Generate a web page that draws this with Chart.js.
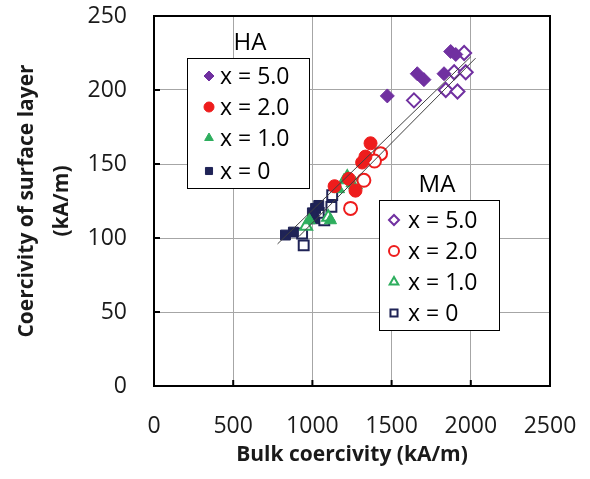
<!DOCTYPE html>
<html>
<head>
<meta charset="utf-8">
<script src="https://cdn.jsdelivr.net/npm/chart.js@4/dist/chart.umd.min.js"></script>
<style>
  body { margin: 0; background: #fff; }
  #wrap { width: 590px; height: 479px; }
</style>
</head>
<body>
<div id="wrap"><canvas id="myChart" width="590" height="479"></canvas></div>
<script>
// values (bulk coercivity vs surface layer coercivity, kA/m)
const haX5 = [1473, 1662, 1704, 1831, 1873, 1905];
const haY5 = [196, 211, 207, 211, 226, 224];
const maX5 = [1641, 1842, 1916, 1895, 1968, 1958];
const maY5 = [193, 200, 199, 212, 212, 225];

const haX2 = [1367, 1335, 1314, 1230, 1272, 1140];
const haY2 = [164, 155, 151, 140, 132, 135];
const maX2 = [1430, 1392, 1325, 1241];
const maY2 = [157, 152, 139, 120];

const haX1 = [1200, 1250, 1114, 980, 1165];
const haY1 = [139, 137, 112, 112, 133];
const maX1 = [1220, 1272, 1100, 960];
const maY1 = [141, 136, 114, 108];

const haX0 = [830, 880, 1010, 1020, 1040, 1000];
const haY0 = [102, 104, 113, 120, 122, 117];
const maX0 = [935, 945, 1075, 1120, 1125, 1040];
const maY0 = [103, 95, 112, 121, 129, 117];

// fitted lines (end points)
const haLineX = [780, 2000];
const haLineY = [96, 222.5];
const maLineX = [915, 2030];
const maLineY = [101, 221.5];

const xTicks = [0, 500, 1000, 1500, 2000, 2500];
const yTicks = [0, 50, 100, 150, 200, 250];
const seriesLabels = ['x = 5.0', 'x = 2.0', 'x = 1.0', 'x = 0'];

const purple = '#7030A0';
const red = '#EE1C1C';
const green = '#2EAE5E';
const navy = '#1F2356';

function pts(xs, ys) {
    return xs.map((x, i) => ({x: x, y: ys[i]}));
}

function lineSet(xs, ys) {
    return {
        data: pts(xs, ys),
        showLine: true,
        borderColor: '#404040',
        borderWidth: 1,
        pointRadius: 0,
        fill: false
    };
}

function filledSet(label, xs, ys, color, style, r) {
    return {
        label: label, group: 'HA',
        data: pts(xs, ys),
        pointStyle: style,
        pointRadius: r,
        backgroundColor: color,
        borderColor: color,
        borderWidth: 1
    };
}

function openSet(label, xs, ys, color, style, r) {
    return {
        label: label, group: 'MA',
        data: pts(xs, ys),
        pointStyle: style,
        pointRadius: r,
        backgroundColor: '#ffffff',
        borderColor: color,
        borderWidth: 2
    };
}

const datasets = [
    lineSet(haLineX, haLineY),
    lineSet(maLineX, maLineY),
    filledSet(seriesLabels[0], haX5, haY5, purple, 'rectRot', 7),
    filledSet(seriesLabels[1], haX2, haY2, red, 'circle', 6.5),
    filledSet(seriesLabels[2], haX1, haY1, green, 'triangle', 7),
    filledSet(seriesLabels[3], haX0, haY0, navy, 'rect', 7),
    openSet(seriesLabels[0], maX5, maY5, purple, 'rectRot', 7),
    openSet(seriesLabels[1], maX2, maY2, red, 'circle', 6.5),
    openSet(seriesLabels[2], maX1, maY1, green, 'triangle', 7),
    openSet(seriesLabels[3], maX0, maY0, navy, 'rect', 7)
];

const font = "'Open Sans', sans-serif";

// frame, inward tick marks and the two boxed legends
const decor = {
    id: 'decor',
    afterDatasetsDraw(chart) {
        const ctx = chart.ctx;
        const a = chart.chartArea;
        const xs = chart.scales.x, ys = chart.scales.y;
        ctx.save();
        ctx.strokeStyle = '#000';
        ctx.lineWidth = 2;
        ctx.strokeRect(a.left, a.top, a.right - a.left, a.bottom - a.top);
        ctx.beginPath();
        xTicks.forEach(v => {
            const px = xs.getPixelForValue(v);
            ctx.moveTo(px, a.bottom);
            ctx.lineTo(px, a.bottom - 6);
        });
        yTicks.forEach(v => {
            const py = ys.getPixelForValue(v);
            ctx.moveTo(a.left, py);
            ctx.lineTo(a.left + 6, py);
        });
        ctx.stroke();

        drawLegend(chart, 'HA', {x: 187, y: 58, w: 122, h: 130, titleX: 250, titleY: 43, markX: 209, textX: 220, rows: [76, 107, 138, 171]});
        drawLegend(chart, 'MA', {x: 379, y: 200, w: 120, h: 130, titleX: 437, titleY: 185, markX: 394, textX: 408, rows: [220, 251, 282, 313]});
        ctx.restore();
    }
};

function drawLegend(chart, group, box) {
    const ctx = chart.ctx;
    ctx.save();
    ctx.fillStyle = '#fff';
    ctx.fillRect(box.x, box.y, box.w, box.h);
    ctx.strokeStyle = '#000';
    ctx.lineWidth = 1;
    ctx.strokeRect(box.x + 0.5, box.y + 0.5, box.w, box.h);
    ctx.fillStyle = '#000';
    ctx.font = '24px ' + font;
    ctx.textAlign = 'center';
    ctx.textBaseline = 'middle';
    ctx.fillText(group, box.titleX, box.titleY);
    ctx.font = '23px ' + font;
    const sets = chart.data.datasets.filter(d => d.group === group);
    sets.forEach((d, i) => {
        const y = box.rows[i];
        ctx.fillStyle = d.backgroundColor;
        ctx.strokeStyle = d.borderColor;
        ctx.lineWidth = d.borderWidth;
        Chart.helpers.drawPoint(ctx, {pointStyle: d.pointStyle, radius: 5, rotation: 0, borderWidth: d.borderWidth}, box.markX, y);
        ctx.fillStyle = '#000';
        ctx.textAlign = 'left';
        ctx.fillText(d.label, box.textX, y + 1);
    });
    ctx.restore();
}

new Chart(document.getElementById('myChart'), {
    type: 'scatter',
    data: {datasets: datasets},
    options: {
        responsive: false,
        animation: false,
        layout: {padding: {left: 0, right: 40, top: 16, bottom: 0}},
        plugins: {legend: {display: false}, tooltip: {enabled: false}},
        scales: {
            x: {
                type: 'linear', min: 0, max: 2500,
                afterBuildTicks: s => { s.ticks = xTicks.map(v => ({value: v})); },
                afterFit: s => { s.height = 93; s.paddingLeft = 0; s.paddingRight = 0; },
                grid: {color: '#a6a6a6', lineWidth: 1, drawTicks: false},
                border: {display: false},
                ticks: {color: '#1a1a1a', font: {family: font, size: 23}, padding: 27, maxRotation: 0,
                        callback: v => String(v)},
                title: {display: true, text: 'Bulk coercivity (kA/m)', color: '#1a1a1a',
                        font: {family: font, size: 21, weight: 'bold'}, padding: {top: 0, bottom: 11}}
            },
            y: {
                type: 'linear', min: 0, max: 250,
                afterBuildTicks: s => { s.ticks = yTicks.map(v => ({value: v})); },
                afterFit: s => { s.width = 154; s.paddingTop = 0; s.paddingBottom = 0; },
                grid: {color: '#a6a6a6', lineWidth: 1, drawTicks: false},
                border: {display: false},
                ticks: {color: '#1a1a1a', font: {family: font, size: 23}, padding: 27,
                        callback: v => String(v)},
                title: {display: true, text: ['Coercivity of surface layer', '(kA/m)'], color: '#1a1a1a',
                        font: {family: font, size: 21, weight: 'bold', lineHeight: 1.65}, padding: {top: 10, bottom: 0}}
            }
        }
    },
    plugins: [decor]
});
</script>
</body>
</html>
